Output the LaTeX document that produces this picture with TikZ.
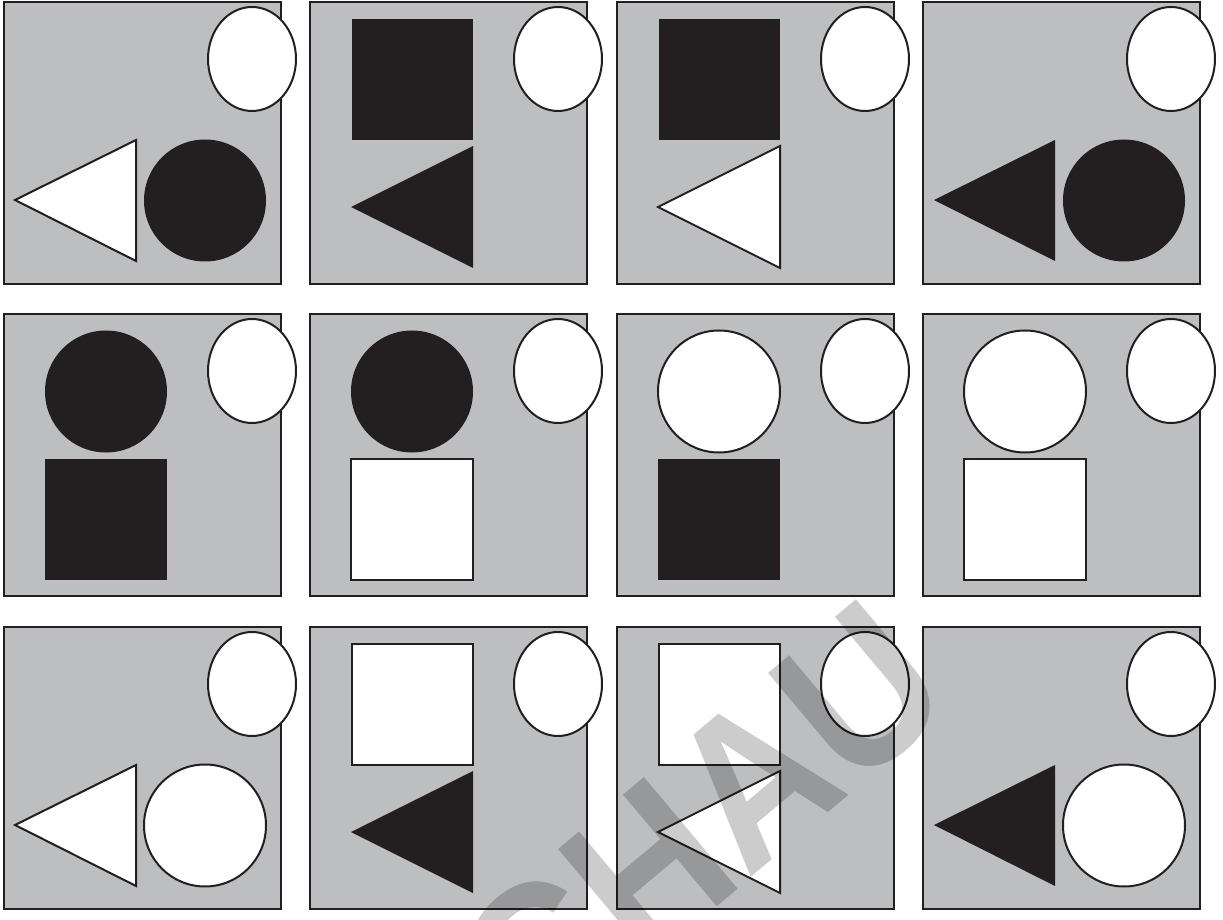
\documentclass[tikz,border=0pt]{standalone}
\usepackage{xcolor}
\usepackage{fontspec}
\usepackage{tikz}
\newfontfamily\wmfont[FakeStretch=0.9]{Liberation Sans}
\definecolor{ink}{HTML}{231F20}
\definecolor{card}{HTML}{BCBEC0}

\begin{document}
\begin{tikzpicture}[
  x=0.5pt, y=-0.5pt,
  panel/.style={draw=ink, fill=card, line width=1.1pt},
  blk/.style={fill=ink},
  wht/.style={draw=ink, fill=white, line width=1pt},
  egg/.style={draw=ink, fill=white, line width=1pt},
  wmark/.style={font=\wmfont\bfseries\fontsize{106}{106}\selectfont,
                text=black, text opacity=0.2, rotate=40, inner sep=0pt},
  pics/tricirc/.style 2 args={code={
    \path[panel] (0,0) rectangle (277,282);
    \path[#1] (11,198) -- (132,138) -- (132,259) -- cycle;
    \path[#2] (201,198.5) circle (61);
    \path[egg] (248,57) ellipse [x radius=44, y radius=52];
  }},
  pics/sqtri/.style 2 args={code={
    \path[panel] (0,0) rectangle (277,282);
    \path[#1] (42,17) rectangle (163,138);
    \path[#2] (41,205) -- (163,144) -- (163,266) -- cycle;
    \path[egg] (248,57) ellipse [x radius=44, y radius=52];
  }},
  pics/circsq/.style 2 args={code={
    \path[panel] (0,0) rectangle (277,282);
    \path[#1] (102,77.5) circle (61);
    \path[#2] (41,145) rectangle (163,266);
    \path[egg] (248,57) ellipse [x radius=44, y radius=52];
  }}
]
\useasboundingbox (0,0) rectangle (1223,920);
% row 1
\pic at (4,2)   {tricirc={wht}{blk}};
\pic at (310,2) {sqtri={blk}{blk}};
\pic at (617,2) {sqtri={blk}{wht}};
\pic at (923,2) {tricirc={blk}{blk}};
% row 2
\pic at (4,314)   {circsq={blk}{blk}};
\pic at (310,314) {circsq={blk}{wht}};
\pic at (617,314) {circsq={wht}{blk}};
\pic at (923,314) {circsq={wht}{wht}};
% row 3
\pic at (4,627)   {tricirc={wht}{wht}};
\pic at (310,627) {sqtri={wht}{blk}};
\pic at (617,627) {sqtri={wht}{wht}};
\pic at (923,627) {tricirc={blk}{wht}};
% watermark
\node[wmark] (wm) at (701,825) {CHAU};
\end{tikzpicture}
\end{document}
